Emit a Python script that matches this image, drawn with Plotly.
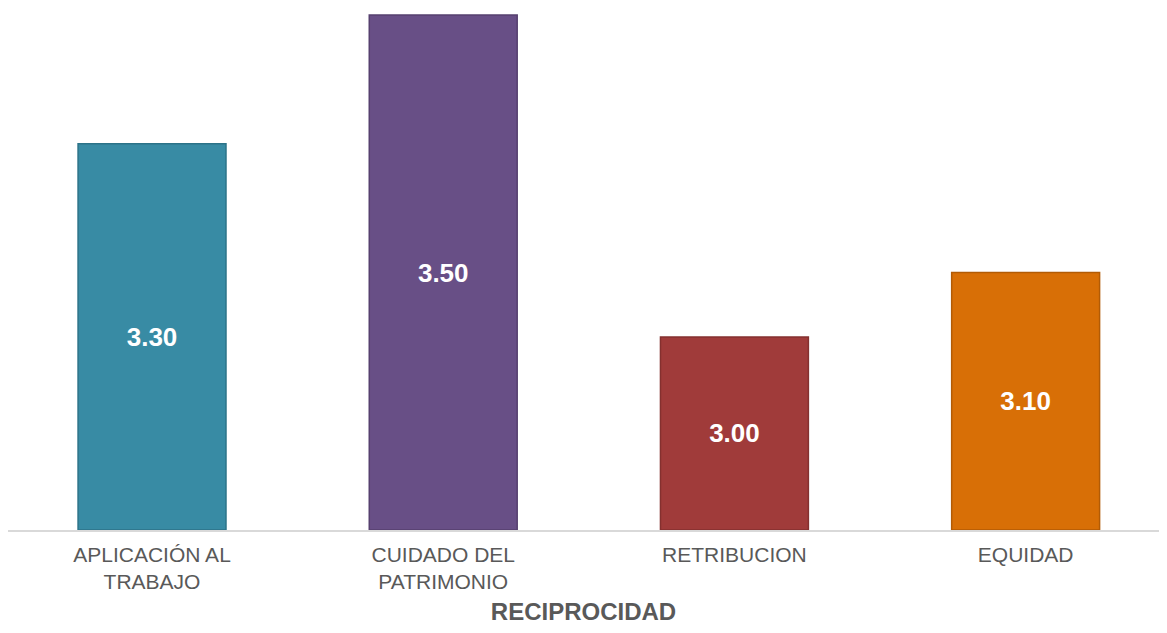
import plotly.graph_objects as go

categories = ["APLICACIÓN AL<br>TRABAJO", "CUIDADO DEL<br>PATRIMONIO", "RETRIBUCION", "EQUIDAD"]
values = [3.30, 3.50, 3.00, 3.10]
labels = ["3.30", "3.50", "3.00", "3.10"]
colors = ["#388BA4", "#684F86", "#A03B3A", "#D86F06"]
edge_colors = ["#2C7388", "#56406F", "#84302F", "#B25B05"]
x_title = "RECIPROCIDAD"

y_min = 2.700
y_max = 3.511

fig = go.Figure(go.Bar(
    x=categories,
    y=[v - y_min for v in values],
    base=y_min,
    text=labels,
    textposition="inside",
    insidetextanchor="middle",
    textangle=0,
    textfont=dict(family="Liberation Sans, Arial", size=26, color="white", weight="bold"),
    marker=dict(color=colors, line=dict(color=edge_colors, width=1.5)),
    hovertext=labels,
    hoverinfo="x+text",
))

fig.update_layout(
    width=1151, height=617,
    margin=dict(l=0, r=0, t=0, b=90),
    paper_bgcolor="white", plot_bgcolor="white",
    bargap=0.492,
    showlegend=False,
    xaxis=dict(
        range=[-0.4946, 3.458],
        showline=True, linecolor="#D9D9D9", linewidth=1.5,
        showgrid=False, ticks="",
        ticklabelstandoff=5,
        tickfont=dict(family="Liberation Sans, Arial", size=21, color="#595959"),
        title=dict(text=x_title, standoff=15,
                   font=dict(family="Liberation Sans, Arial", size=24, color="#595959", weight="bold")),
    ),
    yaxis=dict(
        range=[y_min, y_max], visible=False, showgrid=False, zeroline=False,
    ),
)

fig.write_html("out.html")
